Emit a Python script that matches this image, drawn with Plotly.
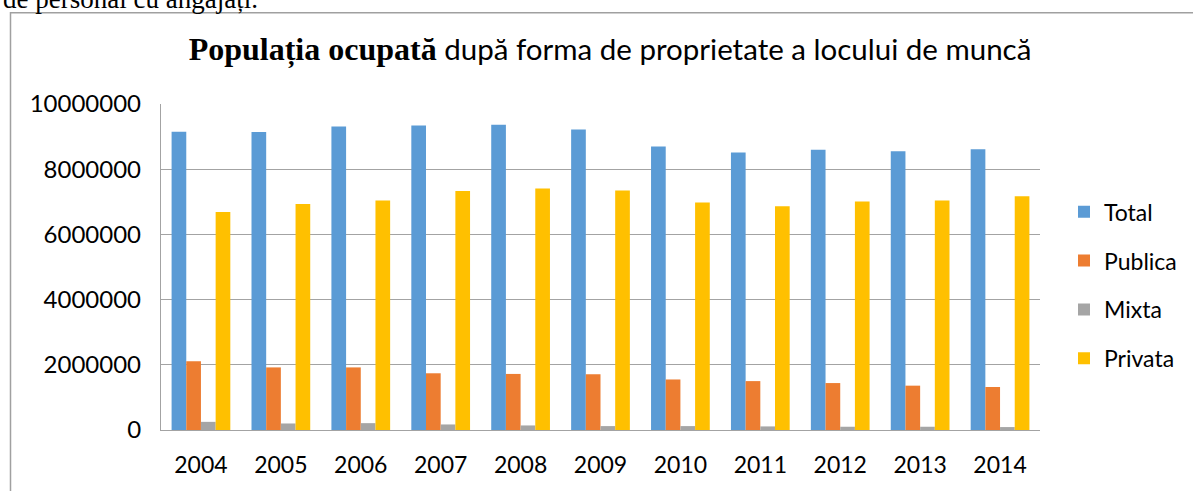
import plotly.graph_objects as go

years = ["2004", "2005", "2006", "2007", "2008", "2009", "2010", "2011", "2012", "2013", "2014"]
total = [9150000, 9140000, 9310000, 9340000, 9360000, 9220000, 8700000, 8510000, 8600000, 8550000, 8610000]
publica = [2110000, 1920000, 1920000, 1740000, 1720000, 1710000, 1550000, 1500000, 1440000, 1360000, 1320000]
mixta = [250000, 200000, 210000, 170000, 140000, 120000, 120000, 110000, 100000, 100000, 90000]
privata = [6690000, 6930000, 7040000, 7330000, 7410000, 7350000, 6980000, 6860000, 7010000, 7040000, 7170000]

series = [
    ("Total", total, "#5B9BD5"),
    ("Publica", publica, "#ED7D31"),
    ("Mixta", mixta, "#A5A5A5"),
    ("Privata", privata, "#FFC000"),
]

fig = go.Figure()
for i, (name, vals, color) in enumerate(series):
    fig.add_trace(go.Bar(x=years, y=vals, name=name, marker=dict(color=color, line=dict(width=0)),
                         legendgroup=name))

W, H = 1193, 491
L, R, T, B = 161, 1040, 103.5, 430
pw, ph = R - L, B - T

def px(x):
    return (x - L) / pw

def py(y):
    return (B - y) / ph

grid = "#a3a3a3"
fig.update_layout(
    width=W, height=H,
    margin=dict(l=L, r=W - R, t=T, b=H - B, autoexpand=False),
    paper_bgcolor="white", plot_bgcolor="white",
    barmode="group", bargap=0.265, bargroupgap=0,
    font=dict(family="Lato", size=23, color="black"),
    title=dict(
        text='<span style="font-family:\'Liberation Serif\';font-size:32px"><b>Populația ocupată</b></span> după forma de proprietate a locului de muncă',
        font=dict(family="Lato", size=29.5, color="black"),
        x=px(610), xref="paper", xanchor="center",
        y=1 - 50 / H, yref="container", yanchor="middle",
    ),
    xaxis=dict(showgrid=False, showline=True, linecolor=grid, linewidth=1.3, ticks="",
               tickfont=dict(size=23), ticklabelstandoff=14, automargin=False),
    yaxis=dict(range=[0, 10000000], dtick=2000000, tickformat="d", showgrid=True,
               gridcolor=grid, gridwidth=1.3, showline=True, linecolor=grid, linewidth=1.3,
               ticks="", zeroline=False, tickfont=dict(size=24), ticklabelstandoff=14,
               automargin=False),
    legend=dict(x=px(1064), xanchor="left", y=py(285), yanchor="middle",
                font=dict(size=23), tracegroupgap=16, itemwidth=30,
                bgcolor="rgba(0,0,0,0)"),
    showlegend=True,
)

# outer chart frame
fig.add_shape(type="rect", xref="paper", yref="paper",
              x0=px(10.5), x1=px(1250), y0=py(560), y1=py(12),
              line=dict(color="#a0a0a0", width=1.5), fillcolor="rgba(0,0,0,0)", layer="below")

# clipped document text above the chart
fig.add_annotation(text="de personal cu angajați.", xref="paper", yref="paper",
                   x=px(1), xanchor="left", y=py(-2), yanchor="middle",
                   showarrow=False, font=dict(family="Liberation Serif", size=27, color="black"))

fig.write_html("out.html", config={"displayModeBar": False},
               post_script="document.body.style.margin='0';document.body.style.overflow='hidden';")
